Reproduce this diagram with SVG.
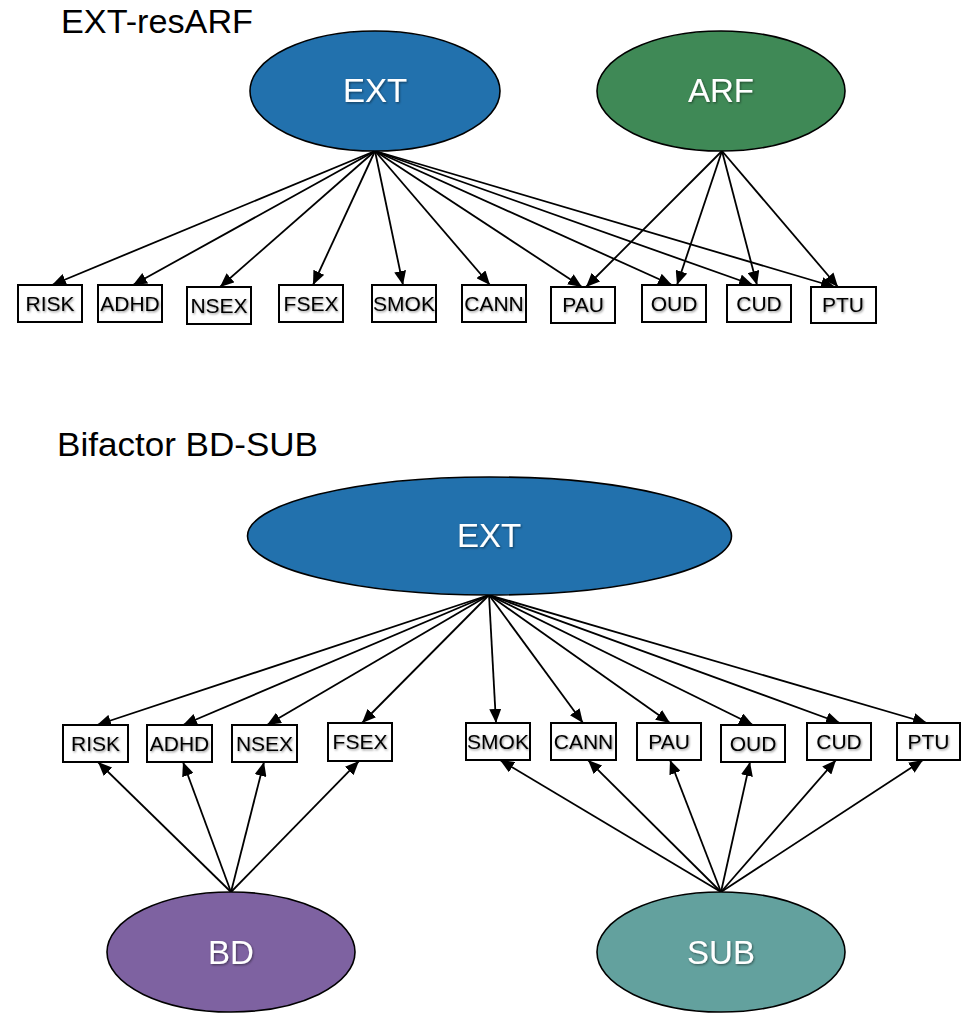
<svg xmlns="http://www.w3.org/2000/svg" width="973" height="1014" viewBox="0 0 973 1014">
<defs>
<marker id="ah" markerWidth="14" markerHeight="12" refX="14" refY="6" orient="auto" markerUnits="userSpaceOnUse">
<path d="M0,0 L14,6 L0,12 z" fill="#000"/>
</marker>
<filter id="sh" x="-20%" y="-20%" width="140%" height="140%">
<feDropShadow dx="1" dy="1.2" stdDeviation="0.8" flood-color="#000" flood-opacity="0.45"/>
</filter>
<style>
.title{font-family:"Liberation Sans",Arial,sans-serif;font-size:34px;fill:#000}
.lat{stroke:#000;stroke-width:1.6}
.lt{font-family:"Liberation Sans",Arial,sans-serif;font-size:33px;fill:#fff;text-anchor:middle;filter:url(#sh)}
.box{fill:#fff;stroke:#000;stroke-width:2}
.bt{font-family:"Liberation Sans",Arial,sans-serif;font-size:21px;fill:#000;text-anchor:middle;filter:url(#sh)}
.c line{stroke:#000;stroke-width:1.8;marker-end:url(#ah)}
</style>
</defs>
<rect width="973" height="1014" fill="#fff"/>
<text class="title" x="61" y="33" textLength="192" lengthAdjust="spacingAndGlyphs">EXT-resARF</text>
<text class="title" x="57" y="456" textLength="261" lengthAdjust="spacingAndGlyphs">Bifactor BD-SUB</text>

<g id="connectors" class="c">
<line x1="375" y1="151" x2="52" y2="285"/>
<line x1="375" y1="151" x2="133" y2="285"/>
<line x1="375" y1="151" x2="220" y2="287"/>
<line x1="375" y1="151" x2="313" y2="285"/>
<line x1="375" y1="151" x2="403" y2="285"/>
<line x1="375" y1="151" x2="490" y2="285"/>
<line x1="375" y1="151" x2="582" y2="287"/>
<line x1="375" y1="151" x2="672" y2="285"/>
<line x1="375" y1="151" x2="753" y2="285"/>
<line x1="375" y1="151" x2="835" y2="287"/>
<line x1="722" y1="151" x2="586" y2="287"/>
<line x1="722" y1="151" x2="677" y2="285"/>
<line x1="722" y1="151" x2="757" y2="285"/>
<line x1="722" y1="151" x2="838" y2="287"/>

<line x1="489" y1="595" x2="97" y2="725"/>
<line x1="489" y1="595" x2="183" y2="725"/>
<line x1="489" y1="595" x2="267" y2="725"/>
<line x1="489" y1="595" x2="362" y2="723"/>
<line x1="489" y1="595" x2="496" y2="723"/>
<line x1="489" y1="595" x2="583" y2="723"/>
<line x1="489" y1="595" x2="670" y2="723"/>
<line x1="489" y1="595" x2="753" y2="725"/>
<line x1="489" y1="595" x2="840" y2="723"/>
<line x1="489" y1="595" x2="927" y2="723"/>

<line x1="231" y1="892" x2="98" y2="762"/>
<line x1="231" y1="892" x2="183" y2="762"/>
<line x1="231" y1="892" x2="264" y2="762"/>
<line x1="231" y1="892" x2="359" y2="761"/>

<line x1="721" y1="892" x2="500" y2="760"/>
<line x1="721" y1="892" x2="588" y2="760"/>
<line x1="721" y1="892" x2="670" y2="760"/>
<line x1="721" y1="892" x2="750" y2="762"/>
<line x1="721" y1="892" x2="836" y2="760"/>
<line x1="721" y1="892" x2="923" y2="760"/>
</g>

<g id="ext1"><ellipse class="lat" cx="375" cy="91" rx="125" ry="60" fill="#2271AD"/><text class="lt" x="375" y="102">EXT</text></g>
<g id="arf"><ellipse class="lat" cx="721" cy="91" rx="124" ry="60" fill="#3F8956"/><text class="lt" x="721" y="102">ARF</text></g>

<g id="t_risk"><rect class="box" x="18" y="285" width="64" height="37"/><text class="bt" x="50" y="311">RISK</text></g>
<g id="t_adhd"><rect class="box" x="98" y="285" width="64" height="37"/><text class="bt" x="130" y="311">ADHD</text></g>
<g id="t_nsex"><rect class="box" x="187" y="287" width="64" height="37"/><text class="bt" x="219" y="313">NSEX</text></g>
<g id="t_fsex"><rect class="box" x="279" y="285" width="64" height="37"/><text class="bt" x="311" y="311">FSEX</text></g>
<g id="t_smok"><rect class="box" x="372" y="285" width="64" height="37"/><text class="bt" x="404" y="311">SMOK</text></g>
<g id="t_cann"><rect class="box" x="462" y="285" width="64" height="37"/><text class="bt" x="494" y="311">CANN</text></g>
<g id="t_pau"><rect class="box" x="551" y="287" width="64" height="36"/><text class="bt" x="583" y="312">PAU</text></g>
<g id="t_oud"><rect class="box" x="642" y="285" width="64" height="37"/><text class="bt" x="674" y="311">OUD</text></g>
<g id="t_cud"><rect class="box" x="727" y="285" width="64" height="37"/><text class="bt" x="759" y="311">CUD</text></g>
<g id="t_ptu"><rect class="box" x="811" y="287" width="65" height="36"/><text class="bt" x="843" y="312">PTU</text></g>

<g id="ext2"><ellipse class="lat" cx="489.5" cy="536" rx="242" ry="59" fill="#2271AD"/><text class="lt" x="489" y="547">EXT</text></g>

<g id="b_risk"><rect class="box" x="63" y="725" width="65" height="37"/><text class="bt" x="95.5" y="751">RISK</text></g>
<g id="b_adhd"><rect class="box" x="147" y="725" width="65" height="37"/><text class="bt" x="179.5" y="751">ADHD</text></g>
<g id="b_nsex"><rect class="box" x="232" y="725" width="65" height="37"/><text class="bt" x="264.5" y="751">NSEX</text></g>
<g id="b_fsex"><rect class="box" x="328" y="723" width="64" height="38"/><text class="bt" x="360" y="749">FSEX</text></g>
<g id="b_smok"><rect class="box" x="466" y="723" width="64" height="37"/><text class="bt" x="498" y="749">SMOK</text></g>
<g id="b_cann"><rect class="box" x="551" y="723" width="65" height="37"/><text class="bt" x="583.5" y="749">CANN</text></g>
<g id="b_pau"><rect class="box" x="637" y="723" width="64" height="37"/><text class="bt" x="669" y="749">PAU</text></g>
<g id="b_oud"><rect class="box" x="721" y="725" width="64" height="37"/><text class="bt" x="753" y="751">OUD</text></g>
<g id="b_cud"><rect class="box" x="807" y="723" width="64" height="37"/><text class="bt" x="839" y="749">CUD</text></g>
<g id="b_ptu"><rect class="box" x="897" y="723" width="63" height="37"/><text class="bt" x="928.5" y="749">PTU</text></g>

<g id="bd"><ellipse class="lat" cx="231" cy="952" rx="124" ry="60" fill="#7E62A1"/><text class="lt" x="231" y="964">BD</text></g>
<g id="sub"><ellipse class="lat" cx="721" cy="952" rx="124" ry="60" fill="#63A19E"/><text class="lt" x="721" y="964">SUB</text></g>
</svg>
